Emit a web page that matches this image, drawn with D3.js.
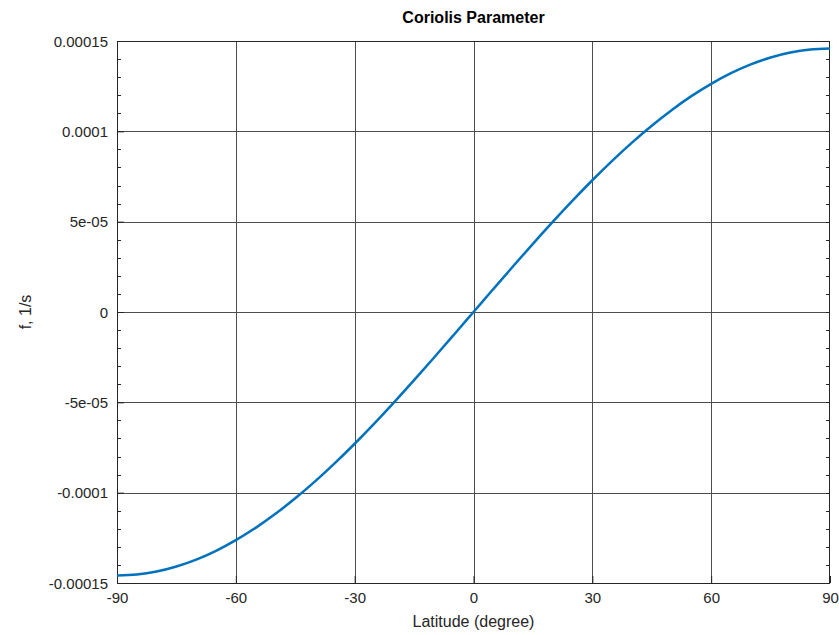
<!DOCTYPE html>
<html>
<head>
<meta charset="utf-8">
<script src="https://cdn.jsdelivr.net/npm/d3@7"></script>
<style>
  html, body { margin: 0; padding: 0; background: #fff; }
  svg { display: block; font-family: "Liberation Sans", Arial, Helvetica, sans-serif; }
</style>
</head>
<body>
<svg id="chart" width="839" height="635"></svg>
<script>
// Latitude in degrees
const latitude = [-90, -85, -80, -75, -70, -65, -60, -55, -50, -45, -40, -35, -30, -25, -20, -15, -10, -5,
                  0, 5, 10, 15, 20, 25, 30, 35, 40, 45, 50, 55, 60, 65, 70, 75, 80, 85, 90];
// Coriolis parameter f, 1/s
const coriolis = [-1.45842e-4, -1.45287e-4, -1.43626e-4, -1.40873e-4, -1.37047e-4, -1.32178e-4, -1.26303e-4,
                  -1.19467e-4, -1.11722e-4, -1.03126e-4, -9.3746e-5, -8.3652e-5, -7.2921e-5, -6.1636e-5,
                  -4.9881e-5, -3.7746e-5, -2.5325e-5, -1.2711e-5,
                  0,
                  1.2711e-5, 2.5325e-5, 3.7746e-5, 4.9881e-5, 6.1636e-5, 7.2921e-5, 8.3652e-5, 9.3746e-5,
                  1.03126e-4, 1.11722e-4, 1.19467e-4, 1.26303e-4, 1.32178e-4, 1.37047e-4, 1.40873e-4,
                  1.43626e-4, 1.45287e-4, 1.45842e-4];
const xTicks = [-90, -60, -30, 0, 30, 60, 90];
const xTickLabels = ["-90", "-60", "-30", "0", "30", "60", "90"];
const yTicks = [-0.00015, -0.0001, -0.00005, 0, 0.00005, 0.0001, 0.00015];
const yTickLabels = ["-0.00015", "-0.0001", "-5e-05", "0", "5e-05", "0.0001", "0.00015"];
const yMinorTicks = d3.range(-15, 16).map(k => k * 1e-5);

const svg = d3.select("#chart");
const plotLeft = 117, plotRight = 830, plotTop = 41, plotBottom = 583;

const x = d3.scaleLinear().domain([-90, 90]).range([plotLeft, plotRight]);
const y = d3.scaleLinear().domain([-0.00015, 0.00015]).range([plotBottom, plotTop]);

const gridColor = "#4d4d4d";
const axisColor = "#262626";

// grid
const grid = svg.append("g");
grid.selectAll(".gx").data(xTicks.slice(1, -1)).join("line")
  .attr("x1", d => Math.round(x(d)) + 0.5).attr("x2", d => Math.round(x(d)) + 0.5)
  .attr("y1", plotTop).attr("y2", plotBottom)
  .attr("stroke", gridColor).attr("stroke-width", 1);
grid.selectAll(".gy").data(yTicks.slice(1, -1)).join("line")
  .attr("y1", d => Math.round(y(d)) + 0.5).attr("y2", d => Math.round(y(d)) + 0.5)
  .attr("x1", plotLeft).attr("x2", plotRight)
  .attr("stroke", gridColor).attr("stroke-width", 1);

// minor ticks (inward, left and right)
const minor = svg.append("g").attr("stroke", axisColor).attr("stroke-width", 1);
minor.selectAll(".ml").data(yMinorTicks).join("line")
  .attr("x1", plotLeft).attr("x2", plotLeft + 4)
  .attr("y1", d => Math.round(y(d)) + 0.5).attr("y2", d => Math.round(y(d)) + 0.5);
minor.selectAll(".mr").data(yMinorTicks).join("line")
  .attr("x1", plotRight - 4).attr("x2", plotRight)
  .attr("y1", d => Math.round(y(d)) + 0.5).attr("y2", d => Math.round(y(d)) + 0.5);

// axes using d3 axis generators (inner ticks)
const xAxis = d3.axisBottom(x).tickValues(xTicks).tickSizeInner(-7).tickSizeOuter(0).tickPadding(9)
  .tickFormat((d, i) => xTickLabels[i]);
const yAxis = d3.axisLeft(y).tickValues(yTicks).tickSizeInner(-7).tickSizeOuter(0).tickPadding(9)
  .tickFormat((d, i) => yTickLabels[i]);

const gx = svg.append("g").attr("transform", `translate(0,${plotBottom})`).call(xAxis);
const gy = svg.append("g").attr("transform", `translate(${plotLeft},0)`).call(yAxis);
[gx, gy].forEach(g => {
  g.select(".domain").remove();
  g.selectAll(".tick line").attr("stroke", axisColor);
  g.selectAll(".tick text").attr("fill", "#262626").style("font-size", "15px")
    .style("font-family", "\"Liberation Sans\", Arial, sans-serif");
});
gy.selectAll(".tick text").attr("dy", "0.35em");

// box
svg.append("rect")
  .attr("x", plotLeft + 0.5).attr("y", plotTop + 0.5)
  .attr("width", plotRight - plotLeft - 1).attr("height", plotBottom - plotTop)
  .attr("fill", "none").attr("stroke", axisColor).attr("stroke-width", 1);

// curve
const line = d3.line().x((d, i) => x(latitude[i])).y(d => y(d)).curve(d3.curveMonotoneX);
svg.append("path").datum(coriolis)
  .attr("d", line)
  .attr("fill", "none").attr("stroke", "#0072BD").attr("stroke-width", 2.5)
  .attr("stroke-linejoin", "round");

// title and labels
svg.append("text").attr("x", (plotLeft + plotRight) / 2).attr("y", 23)
  .attr("text-anchor", "middle").style("font-size", "16px").style("font-weight", "bold")
  .attr("fill", "#000").text("Coriolis Parameter");
svg.append("text").attr("x", (plotLeft + plotRight) / 2).attr("y", 627)
  .attr("text-anchor", "middle").style("font-size", "16px")
  .attr("fill", "#262626").text("Latitude (degree)");
svg.append("text").attr("transform", `translate(31,${(plotTop + plotBottom) / 2}) rotate(-90)`)
  .attr("text-anchor", "middle").style("font-size", "16px")
  .attr("fill", "#262626").text("f, 1/s");
</script>
</body>
</html>
